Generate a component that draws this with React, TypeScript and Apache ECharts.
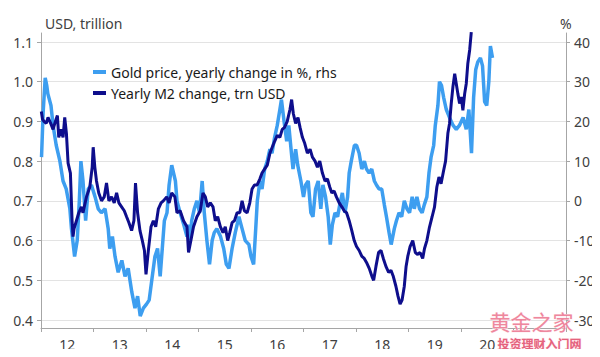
import React, { useEffect, useRef } from "react";
import * as echarts from "echarts";

// Gold price, yearly change in %, right-hand scale: [decimal year, %]
const goldYearlyChange: [number, number][] = [
  [2012.01, 11], [2012.04, 22], [2012.08, 31], [2012.11, 29], [2012.13, 27], [2012.19, 24], [2012.23, 19], [2012.29, 14], [2012.36, 10], [2012.42, 5], [2012.48, 3], [2012.55, -2], [2012.58, -7], [2012.64, -14], [2012.69, -10], [2012.73, 0], [2012.76, 10], [2012.8, 5], [2012.85, -5], [2012.9, 3], [2012.96, 4],
  [2013.03, 1], [2013.09, -2], [2013.15, -3], [2013.22, -2], [2013.28, -7], [2013.31, -12], [2013.36, -9], [2013.41, -14], [2013.47, -18], [2013.54, -15], [2013.6, -19], [2013.66, -17], [2013.73, -23], [2013.79, -27], [2013.84, -24], [2013.89, -29], [2013.95, -27],
  [2014.01, -26], [2014.06, -25], [2014.11, -20], [2014.17, -14], [2014.22, -12], [2014.27, -19], [2014.31, -12], [2014.35, -5], [2014.4, -3], [2014.44, 4], [2014.49, 9], [2014.56, 5], [2014.59, 0], [2014.65, -3], [2014.72, -6], [2014.78, -9], [2014.81, -6], [2014.84, -10], [2014.87, -5], [2014.92, -2], [2014.97, 0],
  [2015.02, -3], [2015.07, 5], [2015.11, -3], [2015.16, -10], [2015.21, -16], [2015.26, -10], [2015.3, -8], [2015.35, -7], [2015.42, -9], [2015.48, -12], [2015.53, -16], [2015.58, -17], [2015.64, -12], [2015.7, -8], [2015.77, -4], [2015.83, -7], [2015.89, -10], [2015.96, -11],
  [2016.0, -14], [2016.05, -16], [2016.09, -7], [2016.12, 0], [2016.17, 5], [2016.21, 3], [2016.26, 8], [2016.31, 10], [2016.36, 13], [2016.4, 12], [2016.45, 16], [2016.5, 19], [2016.55, 23], [2016.58, 25.5], [2016.63, 20], [2016.68, 15], [2016.72, 19], [2016.77, 12], [2016.8, 8], [2016.85, 13], [2016.89, 9], [2016.95, 5],
  [2017.0, 1], [2017.04, 4], [2017.09, 5], [2017.14, -3], [2017.18, -4], [2017.23, 3], [2017.28, 5], [2017.33, -2], [2017.37, 4], [2017.42, 1], [2017.47, -4], [2017.51, -11], [2017.55, -6], [2017.6, -3], [2017.65, -4], [2017.69, -1], [2017.74, 2], [2017.79, -3], [2017.84, 1], [2017.87, 7], [2017.91, 10], [2017.97, 14],
  [2018.01, 14], [2018.06, 12], [2018.11, 8], [2018.16, 10], [2018.2, 8], [2018.25, 7], [2018.3, 8], [2018.35, 5], [2018.39, 4], [2018.44, 3], [2018.49, 3], [2018.54, -1], [2018.58, -4], [2018.63, -8], [2018.67, -11], [2018.73, -7], [2018.77, -5], [2018.82, -3], [2018.87, -4], [2018.92, 0], [2018.97, -2],
  [2019.02, -3], [2019.07, 1], [2019.11, -2], [2019.16, 1], [2019.21, -2], [2019.26, -3], [2019.3, -1], [2019.35, 1], [2019.39, 7], [2019.43, 11], [2019.48, 14], [2019.51, 19], [2019.56, 24], [2019.59, 30], [2019.63, 29], [2019.67, 26], [2019.72, 23], [2019.78, 21], [2019.85, 19], [2019.91, 18], [2019.97, 19],
  [2020.04, 21], [2020.1, 18], [2020.15, 23], [2020.2, 12], [2020.24, 26], [2020.28, 33], [2020.32, 35], [2020.37, 36], [2020.41, 34], [2020.45, 25], [2020.49, 24], [2020.53, 30], [2020.56, 39], [2020.6, 36],
];

// Yearly M2 change, trillion USD, left-hand scale: [decimal year, trn USD]
const m2YearlyChange: [number, number][] = [
  [2012.006, 0.925], [2012.03, 0.905], [2012.057, 0.9], [2012.1, 0.895], [2012.134, 0.91], [2012.185, 0.895], [2012.23, 0.88], [2012.274, 0.9], [2012.312, 0.915], [2012.338, 0.86], [2012.376, 0.88], [2012.42, 0.86], [2012.452, 0.91], [2012.484, 0.87], [2012.516, 0.795], [2012.56, 0.77], [2012.592, 0.65], [2012.61, 0.61], [2012.63, 0.63], [2012.675, 0.65], [2012.72, 0.67], [2012.77, 0.685], [2012.8, 0.67], [2012.866, 0.71], [2012.93, 0.735], [2012.975, 0.785], [2012.994, 0.835],
  [2013.025, 0.785], [2013.057, 0.75], [2013.1, 0.72], [2013.153, 0.7], [2013.204, 0.71], [2013.248, 0.745], [2013.293, 0.7], [2013.344, 0.71], [2013.395, 0.695], [2013.44, 0.72], [2013.484, 0.695], [2013.535, 0.685], [2013.586, 0.675], [2013.63, 0.66], [2013.675, 0.645], [2013.726, 0.625], [2013.77, 0.65], [2013.8, 0.745], [2013.84, 0.67], [2013.885, 0.625], [2013.93, 0.6], [2013.97, 0.575],
  [2014.0, 0.515], [2014.045, 0.575], [2014.096, 0.635], [2014.14, 0.65], [2014.185, 0.635], [2014.236, 0.68], [2014.287, 0.695], [2014.33, 0.7], [2014.395, 0.71], [2014.44, 0.695], [2014.49, 0.72], [2014.55, 0.71], [2014.59, 0.67], [2014.65, 0.675], [2014.715, 0.65], [2014.78, 0.635], [2014.81, 0.57], [2014.855, 0.6], [2014.905, 0.635], [2014.97, 0.66],
  [2015.034, 0.675], [2015.085, 0.72], [2015.13, 0.71], [2015.175, 0.685], [2015.225, 0.695], [2015.276, 0.685], [2015.32, 0.65], [2015.365, 0.66], [2015.416, 0.635], [2015.467, 0.62], [2015.51, 0.635], [2015.556, 0.6], [2015.595, 0.62], [2015.64, 0.645], [2015.685, 0.65], [2015.735, 0.67], [2015.786, 0.67], [2015.83, 0.7], [2015.875, 0.675], [2015.926, 0.67], [2015.977, 0.695],
  [2016.02, 0.73], [2016.066, 0.74], [2016.117, 0.74], [2016.168, 0.755], [2016.21, 0.77], [2016.258, 0.78], [2016.31, 0.79], [2016.36, 0.82], [2016.404, 0.835], [2016.45, 0.85], [2016.5, 0.865], [2016.55, 0.86], [2016.595, 0.88], [2016.64, 0.885], [2016.69, 0.9], [2016.742, 0.93], [2016.774, 0.955], [2016.806, 0.92], [2016.85, 0.895], [2016.895, 0.91], [2016.934, 0.885], [2016.979, 0.86],
  [2017.023, 0.845], [2017.074, 0.82], [2017.125, 0.83], [2017.17, 0.81], [2017.22, 0.8], [2017.265, 0.785], [2017.31, 0.8], [2017.36, 0.77], [2017.41, 0.75], [2017.456, 0.755], [2017.5, 0.735], [2017.54, 0.72], [2017.583, 0.725], [2017.627, 0.71], [2017.68, 0.695], [2017.73, 0.685], [2017.774, 0.675], [2017.82, 0.67], [2017.87, 0.65], [2017.92, 0.625], [2017.966, 0.6],
  [2018.01, 0.585], [2018.06, 0.575], [2018.112, 0.56], [2018.157, 0.555], [2018.2, 0.545], [2018.252, 0.53], [2018.303, 0.51], [2018.336, 0.5], [2018.38, 0.535], [2018.43, 0.57], [2018.476, 0.575], [2018.52, 0.555], [2018.57, 0.535], [2018.622, 0.52], [2018.666, 0.525], [2018.71, 0.51], [2018.76, 0.485], [2018.8, 0.46], [2018.84, 0.44], [2018.877, 0.45], [2018.92, 0.485], [2018.954, 0.535], [2018.986, 0.56],
  [2019.03, 0.585], [2019.081, 0.6], [2019.13, 0.57], [2019.176, 0.565], [2019.22, 0.57], [2019.27, 0.555], [2019.305, 0.58], [2019.35, 0.6], [2019.4, 0.634], [2019.45, 0.66], [2019.495, 0.684], [2019.54, 0.735], [2019.58, 0.76], [2019.62, 0.743], [2019.67, 0.777], [2019.706, 0.8], [2019.75, 0.87], [2019.782, 0.895], [2019.814, 0.945], [2019.846, 0.987], [2019.88, 1.02], [2019.91, 0.995], [2019.94, 0.97], [2019.973, 0.945],
  [2020.005, 0.962], [2020.036, 0.928], [2020.07, 0.97], [2020.1, 0.995], [2020.13, 1.046], [2020.165, 1.08], [2020.196, 1.125],
];

const yearLabels = ["12", "13", "14", "15", "16", "17", "18", "19", "20", ""];
const leftTicks = { min: 0.4, max: 1.1, step: 0.1 };
const rightTicks = { min: -30, max: 40, step: 10 };

const GOLD_NAME = "Gold price, yearly change in %, rhs";
const M2_NAME = "Yearly M2 change, trn USD";
const FONT = "'Noto Sans', 'Open Sans', sans-serif";
const LABEL_COLOR = "#404040";
const AXIS_COLOR = "#a6a6a6";

export default function App() {
  const ref = useRef<HTMLDivElement>(null);

  useEffect(() => {
    if (!ref.current) return;
    const chart = echarts.init(ref.current, undefined, { renderer: "svg" });
    const gridL = 41;
    const gridR = 34;
    chart.setOption({
      animation: false,
      backgroundColor: "#ffffff",
      textStyle: { fontFamily: FONT },
      title: [
        { text: "USD, trillion", left: 40, top: 11, textStyle: { fontSize: 14, fontWeight: "normal", color: LABEL_COLOR, fontFamily: FONT } },
        { text: "%", left: 555, top: 11, textStyle: { fontSize: 14, fontWeight: "normal", color: LABEL_COLOR, fontFamily: FONT } },
      ],
      legend: {
        orient: "vertical",
        left: 88,
        top: 60,
        itemWidth: 13,
        itemHeight: 4,
        itemGap: 7,
        icon: "rect",
        textStyle: { fontSize: 14, color: "#1a1a1a", fontFamily: FONT },
        data: [GOLD_NAME, M2_NAME],
      },
      grid: [
        { left: gridL, right: gridR, top: 42, bottom: 37 },
        { left: gridL, right: gridR, top: 33, bottom: 29 },
      ],
      xAxis: [
        { type: "value", gridIndex: 0, min: 2012, max: 2022, show: false },
        {
          type: "category",
          gridIndex: 1,
          data: yearLabels,
          boundaryGap: true,
          axisLine: { show: true, lineStyle: { color: AXIS_COLOR, width: 1 } },
          axisTick: { show: true, length: 4, inside: false, lineStyle: { color: AXIS_COLOR } },
          axisLabel: { fontSize: 14, color: LABEL_COLOR, margin: 9, fontFamily: FONT },
          splitLine: { show: false },
        },
      ],
      yAxis: [
        {
          type: "value",
          gridIndex: 0,
          position: "left",
          min: leftTicks.min,
          max: leftTicks.max,
          interval: leftTicks.step,
          axisLine: { show: true, lineStyle: { color: AXIS_COLOR } },
          axisTick: { show: true, length: 4, lineStyle: { color: AXIS_COLOR } },
          axisLabel: { fontSize: 14, color: LABEL_COLOR, margin: 8, formatter: (v: number) => v.toFixed(1), fontFamily: FONT },
          splitLine: { show: true, lineStyle: { color: "#e3e3e3", width: 1 } },
        },
        {
          type: "value",
          gridIndex: 0,
          position: "right",
          min: rightTicks.min,
          max: rightTicks.max,
          interval: rightTicks.step,
          axisLine: { show: true, lineStyle: { color: AXIS_COLOR } },
          axisTick: { show: true, length: 4, lineStyle: { color: AXIS_COLOR } },
          axisLabel: { fontSize: 14, color: LABEL_COLOR, margin: 8, fontFamily: FONT },
          splitLine: { show: false },
        },
        {
          type: "value",
          gridIndex: 1,
          position: "left",
          min: 0,
          max: 1,
          axisLine: { show: true, lineStyle: { color: AXIS_COLOR } },
          axisTick: { show: false },
          axisLabel: { show: false },
          splitLine: { show: false },
        },
        {
          type: "value",
          gridIndex: 1,
          position: "right",
          min: 0,
          max: 1,
          axisLine: { show: true, lineStyle: { color: AXIS_COLOR } },
          axisTick: { show: false },
          axisLabel: { show: false },
          splitLine: { show: false },
        },
      ],
      series: [
        {
          name: GOLD_NAME,
          type: "line",
          xAxisIndex: 0,
          yAxisIndex: 1,
          data: goldYearlyChange,
          showSymbol: false,
          symbol: "none",
          clip: false,
          color: "#3d9ef0",
          lineStyle: { color: "#3d9ef0", width: 3.5 },
          z: 3,
        },
        {
          name: M2_NAME,
          type: "line",
          xAxisIndex: 0,
          yAxisIndex: 0,
          data: m2YearlyChange,
          showSymbol: false,
          symbol: "none",
          clip: false,
          color: "#0e0e8c",
          lineStyle: { color: "#0e0e8c", width: 3 },
          z: 4,
        },
      ],
      graphic: [
        {
          type: "text",
          left: 489,
          top: 310,
          z: 100,
          style: {
            text: "黄金之家",
            fontSize: 21,
            fontFamily: "'Noto Sans CJK SC', sans-serif",
            fill: "rgba(236,120,145,0.9)",
            stroke: "rgba(255,235,240,0.9)",
            lineWidth: 1,
          },
        },
        {
          type: "text",
          left: 497,
          top: 337,
          z: 100,
          style: {
            text: "投资理财入门网",
            fontSize: 12,
            fontWeight: "bold",
            fontFamily: "'Noto Sans CJK SC', sans-serif",
            fill: "rgba(225,80,110,0.9)",
            stroke: "rgba(255,220,228,0.9)",
            lineWidth: 1,
          },
        },
      ],
    });
    return () => chart.dispose();
  }, []);

  return <div ref={ref} style={{ width: 600, height: 357, margin: -8 }} />;
}
